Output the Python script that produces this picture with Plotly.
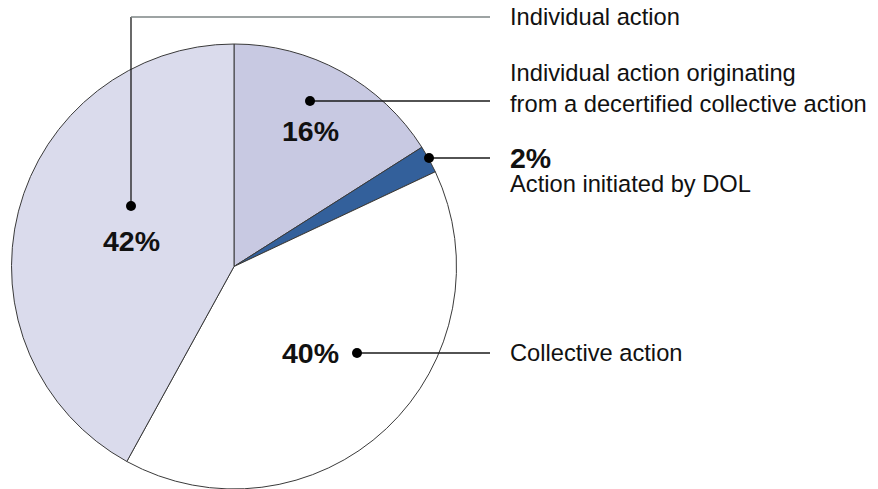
import plotly.graph_objects as go

# page body has an 8px margin: figure is drawn at (8, 8) inside the 878x489 window
OFF = 8
W, H = 878 - OFF, 489 - OFF

categories = ["Individual action originating from a decertified collective action",
              "Action initiated by DOL", "Collective action", "Individual action"]
values = [16, 2, 40, 42]
pct_labels = ["16%", "2%", "40%", "42%"]
colors = ["#c8c9e2", "#33609b", "#ffffff", "#dadbec"]


def X(px):
    return (px - OFF) / W


def Y(py):
    return 1 - (py - OFF) / H


# pie geometry (window pixels)
cx, cy, r = 234, 266.5, 222.5

fig = go.Figure(go.Pie(
    labels=categories, values=values, sort=False, direction="clockwise", rotation=0,
    marker=dict(colors=colors, line=dict(color="#3a3a3a", width=1)),
    textinfo="none", hoverinfo="label+percent", showlegend=False,
    domain=dict(x=[X(cx - r), X(cx + r)], y=[Y(cy + r), Y(cy - r)]),
))

line_col = "#1a1a1a"
shapes = []
annotations = []

leaders = [
    [(131, 206), (131, 17), (490, 17)],
    [(310, 101), (490, 101)],
    [(429, 158), (490, 158)],
    [(357, 353), (490, 353)],
]
for pts in leaders:
    for (x0, y0), (x1, y1) in zip(pts[:-1], pts[1:]):
        col = "#7d8585" if (y0 == y1 == 17) else line_col
        shapes.append(dict(type="line", xref="paper", yref="paper",
                           x0=X(x0), y0=Y(y0), x1=X(x1), y1=Y(y1),
                           line=dict(color=col, width=1.3)))
    dx, dy = pts[0]
    shapes.append(dict(type="circle", xref="paper", yref="paper",
                       x0=X(dx - 5), x1=X(dx + 5), y0=Y(dy + 5), y1=Y(dy - 5),
                       fillcolor="#000000", line=dict(color="#000000", width=0)))

bold = dict(family="Liberation Sans, Arial, sans-serif", size=28.5, color="#111111")
reg = dict(family="Liberation Sans, Arial, sans-serif", size=23.7, color="#111111")

pct_pos = {"16%": (310, 131, "center"), "2%": (508, 158, "left"),
           "40%": (341, 353, "right"), "42%": (131, 241, "center")}
for lab in pct_labels:
    x, y, anc = pct_pos[lab]
    annotations.append(dict(x=X(x), y=Y(y), xref="paper", yref="paper",
                            text="<b>%s</b>" % lab, showarrow=False, xanchor=anc,
                            yanchor="middle", font=bold))

cat_text = [
    ("Individual action", 508, 17),
    ("Individual action originating<br>from a decertified collective action", 508, 89),
    ("Action initiated by DOL", 508, 184),
    ("Collective action", 508, 353),
]
for t, x, y in cat_text:
    annotations.append(dict(x=X(x), y=Y(y), xref="paper", yref="paper", text=t,
                            showarrow=False, xanchor="left", yanchor="middle",
                            align="left", font=reg))

fig.update_layout(width=W, height=H, margin=dict(l=0, r=0, t=0, b=0),
                  paper_bgcolor="white", plot_bgcolor="white",
                  shapes=shapes, annotations=annotations)

fig.write_html("out.html")
